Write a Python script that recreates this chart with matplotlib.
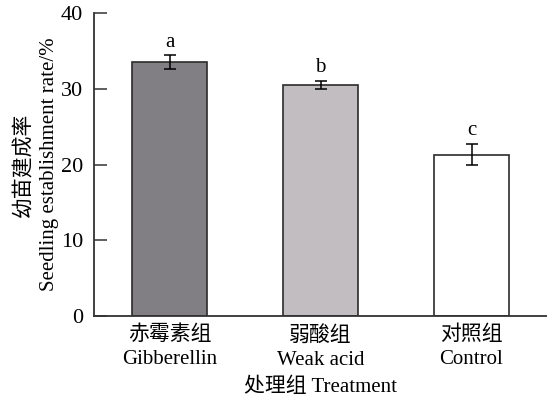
import matplotlib
matplotlib.use("Agg")
import matplotlib.pyplot as plt

# Seedling establishment rate by treatment
groups_cn = ["赤霉素组", "弱酸组", "对照组"]
groups_en = ["Gibberellin", "Weak acid", "Control"]
rates = [33.5, 30.5, 21.3]
errors = [0.9, 0.5, 1.4]
letters = ["a", "b", "c"]
bar_colors = ["#817f83", "#c1bdc1", "#ffffff"]
y_ticks = [0, 10, 20, 30, 40]

fam = ["Liberation Serif", "Noto Sans CJK SC"]
fs = 15

fig = plt.figure(figsize=(5.47, 4.03), dpi=100)
ax = fig.add_axes([94 / 547, 87 / 403, 1 - 94 / 547, 303 / 403])

x = list(range(len(rates)))
ax.bar(x, rates, width=0.5, color=bar_colors, edgecolor="#2b2b2b", linewidth=1.2, zorder=2)
ax.errorbar(x, rates, yerr=errors, fmt="none", ecolor="black", elinewidth=1.1,
            capsize=4.5, capthick=1.1, zorder=3)

for xi, r, e, t in zip(x, rates, errors, letters):
    ax.text(xi, r + e + 0.5, t, ha="center", va="bottom", fontsize=fs, family=fam)

ax.set_xlim(-0.5, 2.5)
ax.set_ylim(0, 40)
ax.set_yticks(y_ticks)
ax.set_yticklabels([str(v) for v in y_ticks], family=fam, fontsize=16)
ax.set_xticks(x)
ax.set_xticklabels([f"{c}\n{e}" for c, e in zip(groups_cn, groups_en)],
                   family=fam, fontsize=fs, linespacing=1.35)

ax.tick_params(axis="y", direction="in", length=9, width=1.1, pad=8, colors="#333333",
               labelcolor="black")
ax.tick_params(axis="x", direction="in", length=6, width=1.1, pad=7, colors="#333333",
               labelcolor="black")

for side in ("top", "right"):
    ax.spines[side].set_visible(False)
for side in ("left", "bottom"):
    ax.spines[side].set_linewidth(1.3)
    ax.spines[side].set_color("#333333")

ax.set_xlabel("处理组 Treatment", family=fam, fontsize=fs, labelpad=6)
ax.set_ylabel("幼苗建成率\nSeedling establishment rate/%", family=fam, fontsize=fs,
              linespacing=1.45, labelpad=1)

fig.savefig("out.png", dpi=100)
